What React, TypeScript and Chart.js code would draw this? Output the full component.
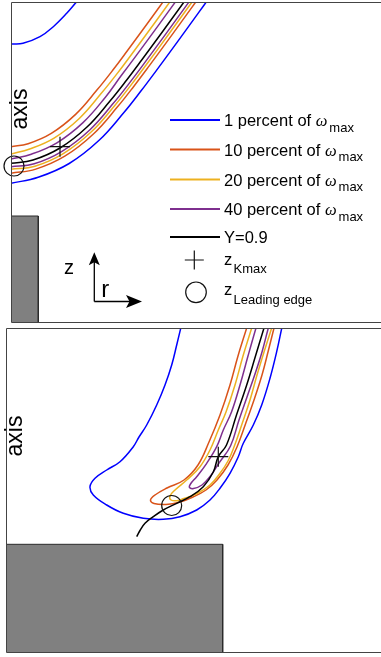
import React, { useEffect, useRef } from 'react';
import { Chart, registerables } from 'chart.js';

Chart.register(...registerables);

const BLUE = '#0000ff';
const ORANGE = '#d95319';
const YELLOW = '#edb120';
const PURPLE = '#7e2f8e';
const BLACK = '#000000';
const FONT = '"Liberation Sans", Arial, Helvetica, sans-serif';

// ---------- Top panel (r, z) ----------
const topBlueUpper = [[0, 278], [12, 278.7], [29, 285.3], [42.3, 295.3], [55.7, 308.7], [65.7, 320.3], [70, 325]];
const topBlue = [[0, 138.7], [27.2, 144.7], [58.2, 158.5], [88.1, 181.7], [112.9, 209.5], [130.1, 231.2], [145.3, 251.4], [166.6, 280.4], [187.6, 309.4], [197.6, 323.2]];
const topOrange1 = [[0, 175.3], [17.1, 178.3], [40.3, 188.6], [64.6, 207.6], [85.9, 231.9], [102.1, 252.2], [116.9, 272], [138.2, 301], [159.2, 330]];
const topOrange2 = [[0, 148.7], [24.8, 152.9], [53.8, 165.8], [82.4, 188], [106.3, 214.9], [123.3, 236.3], [138.4, 256.4], [159.7, 285.4], [180.7, 314.4], [187.7, 324]];
const topYellow1 = [[0, 168], [18.7, 173], [43.1, 183.9], [68.3, 203.5], [90.1, 228.4], [106.5, 248.9], [121.4, 268.8], [142.7, 297.8], [163.7, 326.8]];
const topYellow2 = [[0, 152.7], [23.9, 155.8], [52.3, 168.4], [80.4, 190.2], [104, 216.8], [120.9, 238.1], [136, 258.2], [157.3, 287.2], [178.3, 316.2], [185.3, 325.8]];
const topPurple1 = [[0, 163], [20.3, 167.8], [45.9, 179.2], [72, 199.4], [94.4, 224.8], [110.1, 246.2], [125, 266.1], [146.3, 295.1], [167.3, 324.1]];
const topPurple2 = [[0, 155.3], [23.2, 158.2], [51, 170.6], [78.7, 192], [102.1, 218.4], [118.9, 239.6], [133.9, 259.6], [155.2, 288.6], [176.2, 317.6], [181.2, 324.6]];
const topBlack = [[0, 158.7], [22, 162], [49, 174], [76, 195], [99, 221], [115.7, 242], [130.7, 262], [152, 291], [173, 320], [180, 329.6]];
const topKmax = [[49, 175.3]];
const topLeading = [[3, 156]];
const topBody = [[0, 106], [27.3, 106], [27.3, 0]];

// ---------- Bottom panel (r, z) ----------
const botBlue = [[176.2, 330], [174.7, 323.7], [170.7, 307], [165.7, 287], [159, 267], [150.7, 247], [140.7, 227], [133, 215], [127.3, 205.3], [114, 190.3], [100.7, 182], [89, 173.7], [84, 165.3], [87.3, 157], [100.7, 147], [117.3, 138.7], [137.3, 133.7], [157.3, 132.7], [174, 135.3], [190.7, 142], [204, 152], [214, 163.7], [224, 178.7], [232.3, 195.3], [237.3, 208.7], [247.3, 227], [255.7, 247], [264, 273.7], [270.7, 300.3], [275.7, 323.7], [277, 330]];
const botOrange = [[242.6, 330], [240.7, 324], [232, 296], [224, 267], [214, 237], [203, 210], [192, 187], [178, 172], [161, 164], [149, 157], [144.5, 152], [148, 148.5], [160, 147.5], [174, 150], [187, 155], [200, 162], [211, 172], [222, 187], [231, 205], [239.5, 228], [248, 252], [256, 277], [262, 300], [268, 324], [269.5, 330]];
const botYellow = [[247.5, 330], [245.7, 324], [237, 296], [229, 267], [220, 240], [212.3, 222], [204, 202], [194, 185.3], [180.7, 172], [169, 162], [164, 156], [165, 152], [171, 151.3], [178, 153.5], [191, 158.5], [204, 167], [214, 178.7], [222, 191], [228, 205], [236, 228], [244, 252], [251, 277], [258, 300], [265.7, 324], [267.5, 330]];
const botPurple = [[252, 330], [250, 324], [242, 296], [234, 267], [225.5, 240], [217.3, 222], [210.7, 205.3], [200.7, 188.7], [190.7, 175.3], [184.5, 168], [183.5, 164.5], [187.5, 163.5], [196, 167], [204.5, 176], [213, 189], [224.5, 206], [233, 232], [241, 255], [249, 278], [256, 300], [262.3, 324], [264, 330]];
const botBlack = [[260, 330], [258, 324], [249.5, 296], [240.7, 267], [230.5, 237], [220.5, 207], [212.3, 195.3], [207.3, 180], [197.3, 165.3], [184, 155.3], [170.7, 148.7], [157.3, 142], [147.3, 135.3], [139, 128.7], [134, 121.5], [130.7, 115.3]];
const botKmax = [[212.3, 195.3]];
const botLeading = [[165.7, 146.5]];
const botBody = [[0, 107.7], [216.7, 107.7], [216.7, 0]];

// ---------- Legend ----------
const legendLabels = ['1 percent of', '10 percent of', '20 percent of', '40 percent of', 'Y=0.9'];
const legendColors = [BLUE, ORANGE, YELLOW, PURPLE, BLACK];
const legendOmega = [true, true, true, true, false];
const markerLabels = ['Kmax', 'Leading edge'];

const toXY = (a: number[][]) => a.map(([x, y]) => ({ x, y }));

function curve(data: number[][], color: string) {
  return {
    data: toXY(data),
    borderColor: color,
    borderWidth: 1.5,
    showLine: true,
    pointRadius: 0,
    tension: 0.4,
    fill: false,
  };
}

function marker(data: number[][], style: string) {
  return {
    data: toXY(data),
    showLine: false,
    pointStyle: style,
    pointRadius: 10,
    pointBorderWidth: 1.2,
    pointBorderColor: '#111',
    pointBackgroundColor: 'rgba(0,0,0,0)',
    clip: false,
  };
}

function body(data: number[][]) {
  return {
    data: toXY(data),
    showLine: true,
    pointRadius: 0,
    tension: 0,
    borderColor: '#2a2a2a',
    borderWidth: 1,
    backgroundColor: '#808080',
    fill: 'origin',
  };
}

// frame: top, left and bottom edges only (right edge lies outside the picture)
const framePlugin = {
  id: 'frame',
  afterDatasetsDraw(chart: any) {
    const { ctx, chartArea: a } = chart;
    ctx.save();
    ctx.strokeStyle = '#444';
    ctx.lineWidth = 1;
    ctx.beginPath();
    ctx.moveTo(a.right + 2, a.top + 0.5);
    ctx.lineTo(a.left + 0.5, a.top + 0.5);
    ctx.lineTo(a.left + 0.5, a.bottom + 0.5);
    ctx.lineTo(a.right + 2, a.bottom + 0.5);
    ctx.stroke();
    ctx.restore();
  },
};

function drawAxisWord(ctx: CanvasRenderingContext2D, x: number, y: number) {
  ctx.save();
  ctx.translate(x, y);
  ctx.rotate(-Math.PI / 2);
  ctx.font = `23px ${FONT}`;
  ctx.fillStyle = '#000';
  ctx.textAlign = 'center';
  ctx.textBaseline = 'alphabetic';
  ctx.fillText('axis', 0, 0);
  ctx.restore();
}

function arrowHead(ctx: CanvasRenderingContext2D, tx: number, ty: number, dx: number, dy: number, len: number, half: number, notch: number) {
  const px = -dy, py = dx;
  const bx = tx - dx * len, by = ty - dy * len;
  ctx.beginPath();
  ctx.moveTo(tx, ty);
  ctx.lineTo(bx + px * half, by + py * half);
  ctx.lineTo(tx - dx * (len - notch), ty - dy * (len - notch));
  ctx.lineTo(bx - px * half, by - py * half);
  ctx.closePath();
  ctx.fill();
}

const topDecor = {
  id: 'topDecor',
  afterDraw(chart: any) {
    const ctx: CanvasRenderingContext2D = chart.ctx;
    ctx.save();
    drawAxisWord(ctx, 26.5, 109);

    const ys = [120, 149.5, 179.5, 209, 237];
    legendLabels.forEach((lab, i) => {
      const y = ys[i];
      ctx.strokeStyle = legendColors[i];
      ctx.lineWidth = 2;
      ctx.beginPath();
      ctx.moveTo(170, y);
      ctx.lineTo(220, y);
      ctx.stroke();
      ctx.fillStyle = '#000';
      ctx.textAlign = 'left';
      ctx.textBaseline = 'alphabetic';
      ctx.font = `16.5px ${FONT}`;
      ctx.fillText(lab, 224, y + 6);
      if (legendOmega[i]) {
        let x = 224 + ctx.measureText(lab + ' ').width;
        ctx.font = `italic 16.5px "Liberation Serif", "DejaVu Serif", serif`;
        ctx.fillText('ω', x, y + 6);
        x += ctx.measureText('ω').width + 2;
        ctx.font = `13px ${FONT}`;
        ctx.fillText('max', x, y + 11.5);
      }
    });

    ctx.strokeStyle = '#111';
    ctx.lineWidth = 1.2;
    ctx.beginPath();
    ctx.moveTo(184.8, 260);
    ctx.lineTo(203.8, 260);
    ctx.moveTo(194.3, 250.5);
    ctx.lineTo(194.3, 269.5);
    ctx.stroke();
    ctx.beginPath();
    ctx.arc(196, 292.3, 10.3, 0, Math.PI * 2);
    ctx.stroke();

    ctx.fillStyle = '#000';
    ctx.font = `16.5px ${FONT}`;
    ctx.fillText('z', 224, 265);
    ctx.fillText('z', 224, 295);
    ctx.font = `13px ${FONT}`;
    ctx.fillText(markerLabels[0], 233.5, 272.5);
    ctx.fillText(markerLabels[1], 233.5, 304);

    ctx.strokeStyle = '#000';
    ctx.fillStyle = '#000';
    ctx.lineWidth = 1.3;
    ctx.beginPath();
    ctx.moveTo(94.3, 301.5);
    ctx.lineTo(94.3, 258);
    ctx.moveTo(94.3, 301.5);
    ctx.lineTo(136, 301.5);
    ctx.stroke();
    arrowHead(ctx, 94.3, 252.3, 0, -1, 13, 5.5, 3);
    arrowHead(ctx, 142, 301.5, 1, 0, 16, 6.5, 3.5);
    ctx.font = `20px ${FONT}`;
    ctx.fillText('z', 64, 273.5);
    ctx.font = `24px ${FONT}`;
    ctx.fillText('r', 101.3, 296.5);
    ctx.restore();
  },
};

const bottomDecor = {
  id: 'bottomDecor',
  afterDraw(chart: any) {
    drawAxisWord(chart.ctx, 21.5, 111);
  },
};

function makeConfig(datasets: any[], pad: any, xMax: number, yMax: number, plugins: any[]) {
  return {
    type: 'scatter',
    data: { datasets },
    options: {
      responsive: false,
      animation: false,
      events: [],
      layout: { padding: pad, autoPadding: false },
      scales: {
        x: { type: 'linear', min: 0, max: xMax, display: false },
        y: { type: 'linear', min: 0, max: yMax, display: false },
      },
      plugins: { legend: { display: false }, tooltip: { enabled: false } },
    },
    plugins: [framePlugin, ...plugins],
  } as any;
}

function Panel({ top, height, config }: { top: number; height: number; config: any }) {
  const ref = useRef<HTMLCanvasElement | null>(null);
  useEffect(() => {
    if (!ref.current) return;
    const c = new Chart(ref.current, config);
    return () => c.destroy();
  }, [config]);
  return (
    <canvas
      ref={ref}
      width={381}
      height={height}
      style={{ position: 'absolute', left: 0, top, width: 381, height }}
    />
  );
}

const topConfig = makeConfig(
  [
    marker(topKmax, 'cross'),
    marker(topLeading, 'circle'),
    curve(topBlack, BLACK),
    curve(topPurple1, PURPLE),
    curve(topPurple2, PURPLE),
    curve(topYellow1, YELLOW),
    curve(topYellow2, YELLOW),
    curve(topOrange1, ORANGE),
    curve(topOrange2, ORANGE),
    curve(topBlue, BLUE),
    curve(topBlueUpper, BLUE),
    body(topBody),
  ],
  { left: 11, top: 2, right: 0, bottom: 3 },
  370,
  320,
  [topDecor]
);

const bottomConfig = makeConfig(
  [
    marker(botKmax, 'cross'),
    marker(botLeading, 'circle'),
    curve(botBlack, BLACK),
    curve(botPurple, PURPLE),
    curve(botYellow, YELLOW),
    curve(botOrange, ORANGE),
    curve(botBlue, BLUE),
    body(botBody),
  ],
  { left: 6, top: 3, right: 0, bottom: 5 },
  375,
  324,
  [bottomDecor]
);

export default function App() {
  return (
    <div
      style={{
        position: 'absolute',
        left: 0,
        top: 0,
        width: 381,
        height: 657,
        overflow: 'hidden',
        background: '#fff',
      }}
    >
      <Panel top={0} height={325} config={topConfig} />
      <Panel top={325} height={332} config={bottomConfig} />
    </div>
  );
}
